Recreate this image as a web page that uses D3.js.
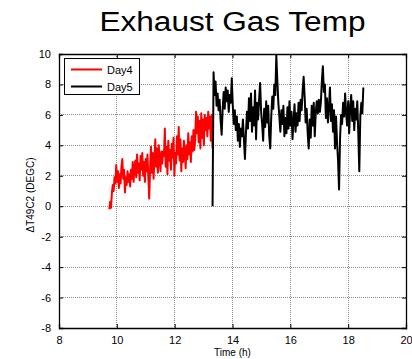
<!DOCTYPE html>
<html>
<head>
<meta charset="utf-8">
<script src="https://cdn.jsdelivr.net/npm/d3@7"></script>
<style>
  html, body { margin: 0; padding: 0; background: #fff; }
  svg { display: block; font-family: "Liberation Sans", Arial, sans-serif; }
</style>
</head>
<body>
<svg id="chart" width="412" height="359"></svg>
<script>
// Axis ticks
const xTicks = [8, 10, 12, 14, 16, 18, 20];
const yTicks = [-8, -6, -4, -2, 0, 2, 4, 6, 8, 10];

// Day 4: sampled every 0.03 h starting at 9.74 h
const day4Start = 9.74;
const day4Step = 0.03;
const day4Values = [
  -0.2, 0.3, -0.1, 0.9, 1.4, 1.0, 1.9, 1.5, 2.7, 1.6,
  2.3, 1.2, 2.1, 1.5, 2.6, 3.1, 1.8, 2.4, 0.9, 1.9,
  1.4, 2.3, 1.6, 2.1, 1.3, 2.4, 1.8, 2.9, 1.6, 2.6,
  3.0, 1.9, 3.4, 2.2, 2.8, 1.7, 3.3, 2.4, 3.5, 2.0,
  2.9, 1.6, 3.1, 2.3, 3.4, 1.9, 0.5, 2.4, 3.9, 2.2,
  3.5, 1.8, 3.0, 4.4, 2.6, 3.8, 2.2, 4.0, 3.1, 2.3,
  3.6, 2.8, 3.6, 3.3, 5.1, 2.6, 3.9, 2.1, 4.3, 3.0,
  3.7, 2.4, 4.1, 3.2, 4.5, 2.0, 3.5, 2.8, 4.6, 3.4,
  5.2, 3.0, 4.4, 2.3, 3.8, 2.9, 4.3, 3.5, 2.5, 4.0,
  3.1, 4.8, 3.4, 4.2, 2.9, 4.6, 3.6, 5.0, 3.7, 4.4,
  6.2, 4.8, 5.9, 4.2, 5.6, 3.8, 6.1, 4.5, 5.7, 4.0,
  6.0, 5.0, 5.8, 4.6, 6.2, 5.1, 5.9, 4.3, 6.0, 3.8
];

// Day 5: sampled every 0.035 h starting at 13.31 h
const day5Start = 13.31;
const day5Step = 0.035;
const day5Values = [
  0.0, 8.8, 7.3, 8.2, 6.6, 7.4, 6.3, 7.0, 5.6, 4.7,
  6.4, 7.5, 6.4, 7.8, 6.9, 7.6, 6.2, 7.3, 6.8, 8.4,
  6.6, 5.4, 6.3, 5.0, 5.9, 4.3, 5.4, 3.9, 5.1, 4.6,
  5.7, 4.4, 3.1, 4.8, 6.2, 5.1, 7.1, 5.6, 7.4, 4.9,
  6.5, 5.3, 7.6, 4.4, 6.8, 5.7, 7.0, 8.1, 6.2, 5.4,
  4.3, 6.4, 5.2, 6.9, 5.5, 6.6, 4.6, 3.8, 5.9, 7.2,
  6.4, 8.0, 7.3, 9.9, 8.3, 6.8, 5.9, 4.9, 6.3, 5.4,
  6.6, 4.6, 5.8, 4.8, 6.5, 5.1, 6.9, 5.3, 6.2, 4.4,
  5.6, 6.7, 4.9, 6.1, 5.3, 6.8, 5.6, 7.0, 6.3, 7.6,
  8.5, 7.2, 5.5, 6.4, 4.8, 3.8, 5.7, 4.5, 6.6, 5.3,
  6.8, 4.6, 6.2, 6.9, 6.1, 7.0, 6.2, 6.8, 8.2, 9.2,
  7.5, 8.0, 5.8, 7.1, 5.5, 6.5, 7.8, 5.6, 6.7, 4.9,
  6.3, 3.8, 5.9, 4.2, 3.0, 1.1, 4.5, 6.0, 5.4, 6.8,
  5.9, 7.4, 6.1, 5.3, 6.9, 4.8, 6.5, 7.3, 5.6, 6.9,
  5.0, 6.4, 5.7, 6.9, 4.8, 2.3, 5.9, 6.8, 6.1, 7.8
];

const seriesNames = ["Day4", "Day5"];
const seriesColors = ["#ff0000", "#000000"];

const svg = d3.select("#chart");
const margin = { left: 59, right: 6, top: 54, bottom: 31 };
const W = 412, H = 359;
const x0 = margin.left, x1 = W - margin.right;
const y0 = margin.top, y1 = H - margin.bottom;

const x = d3.scaleLinear().domain([8, 20]).range([x0, x1]);
const y = d3.scaleLinear().domain([-8, 10]).range([y1, y0]);

// Grid lines (dotted)
const grid = svg.append("g").attr("class", "grid");
grid.selectAll("line.gx").data(xTicks.slice(1, -1)).join("line")
  .attr("x1", d => x(d)).attr("x2", d => x(d))
  .attr("y1", y0).attr("y2", y1)
  .attr("stroke", "#8c8c8c").attr("stroke-width", 1)
  .attr("stroke-dasharray", "1,1")
  .attr("shape-rendering", "crispEdges");
grid.selectAll("line.gy").data(yTicks.slice(1, -1)).join("line")
  .attr("x1", x0).attr("x2", x1)
  .attr("y1", d => y(d)).attr("y2", d => y(d))
  .attr("stroke", "#8c8c8c").attr("stroke-width", 1)
  .attr("stroke-dasharray", "1,1")
  .attr("shape-rendering", "crispEdges");

// Data lines
const series = [
  day4Values.map((v, i) => [day4Start + i * day4Step, v]),
  day5Values.map((v, i) => [day5Start + i * day5Step, v])
];
const line = d3.line().x(d => x(d[0])).y(d => y(d[1]));
svg.append("g").selectAll("path").data(series).join("path")
  .attr("d", line)
  .attr("fill", "none")
  .attr("stroke", (d, i) => seriesColors[i])
  .attr("stroke-width", 2)
  .attr("stroke-linejoin", "round");

// Axes: ticks point inward, mirrored on top and right
const tickFont = 11;
const gx = svg.append("g").attr("transform", `translate(0,${y1})`)
  .call(d3.axisBottom(x).tickValues(xTicks).tickSize(-4).tickPadding(8).tickFormat(d3.format("d")));
const gxTop = svg.append("g").attr("transform", `translate(0,${y0})`)
  .call(d3.axisTop(x).tickValues(xTicks).tickSize(-4).tickFormat(""));
const gy = svg.append("g").attr("transform", `translate(${x0},0)`)
  .call(d3.axisLeft(y).tickValues(yTicks).tickSize(-4).tickPadding(8).tickFormat(d3.format("d")));
const gyRight = svg.append("g").attr("transform", `translate(${x1},0)`)
  .call(d3.axisRight(y).tickValues(yTicks).tickSize(-4).tickFormat(""));

[gx, gxTop, gy, gyRight].forEach(g => {
  g.select(".domain").attr("stroke", "#000").attr("stroke-width", 1.3);
  g.selectAll(".tick line").attr("stroke", "#000");
  g.selectAll("text").attr("fill", "#000")
    .style("font-family", "'Liberation Sans', Arial, sans-serif")
    .style("font-size", tickFont + "px");
});
gy.selectAll("text").text(d => d < 0 ? "-" + Math.abs(d) : d);

// Title and axis labels
svg.append("text")
  .attr("x", (x0 + x1) / 2).attr("y", 31)
  .attr("text-anchor", "middle")
  .attr("textLength", 266)
  .attr("lengthAdjust", "spacingAndGlyphs")
  .style("font-size", "27px")
  .text("Exhaust Gas Temp");

svg.append("text")
  .attr("x", (x0 + x1) / 2).attr("y", 356)
  .attr("text-anchor", "middle")
  .style("font-size", "10px")
  .text("Time (h)");

svg.append("text")
  .attr("transform", `translate(34,${(y0 + y1) / 2 + 4}) rotate(-90)`)
  .attr("text-anchor", "middle")
  .style("font-size", "10px")
  .text("ΔT49C2 (DEGC)");

// Legend
const lg = svg.append("g").attr("transform", "translate(64,58)");
lg.append("rect").attr("width", 75).attr("height", 36)
  .attr("fill", "#fff").attr("stroke", "#000").attr("stroke-width", 1)
  .attr("shape-rendering", "crispEdges");
seriesNames.forEach((name, i) => {
  const yy = 11.5 + i * 17;
  lg.append("line").attr("x1", 7).attr("x2", 38).attr("y1", yy).attr("y2", yy)
    .attr("stroke", seriesColors[i]).attr("stroke-width", 2);
  lg.append("text").attr("x", 43).attr("y", yy + 4)
    .style("font-size", "11px").text(name);
});
</script>
</body>
</html>
